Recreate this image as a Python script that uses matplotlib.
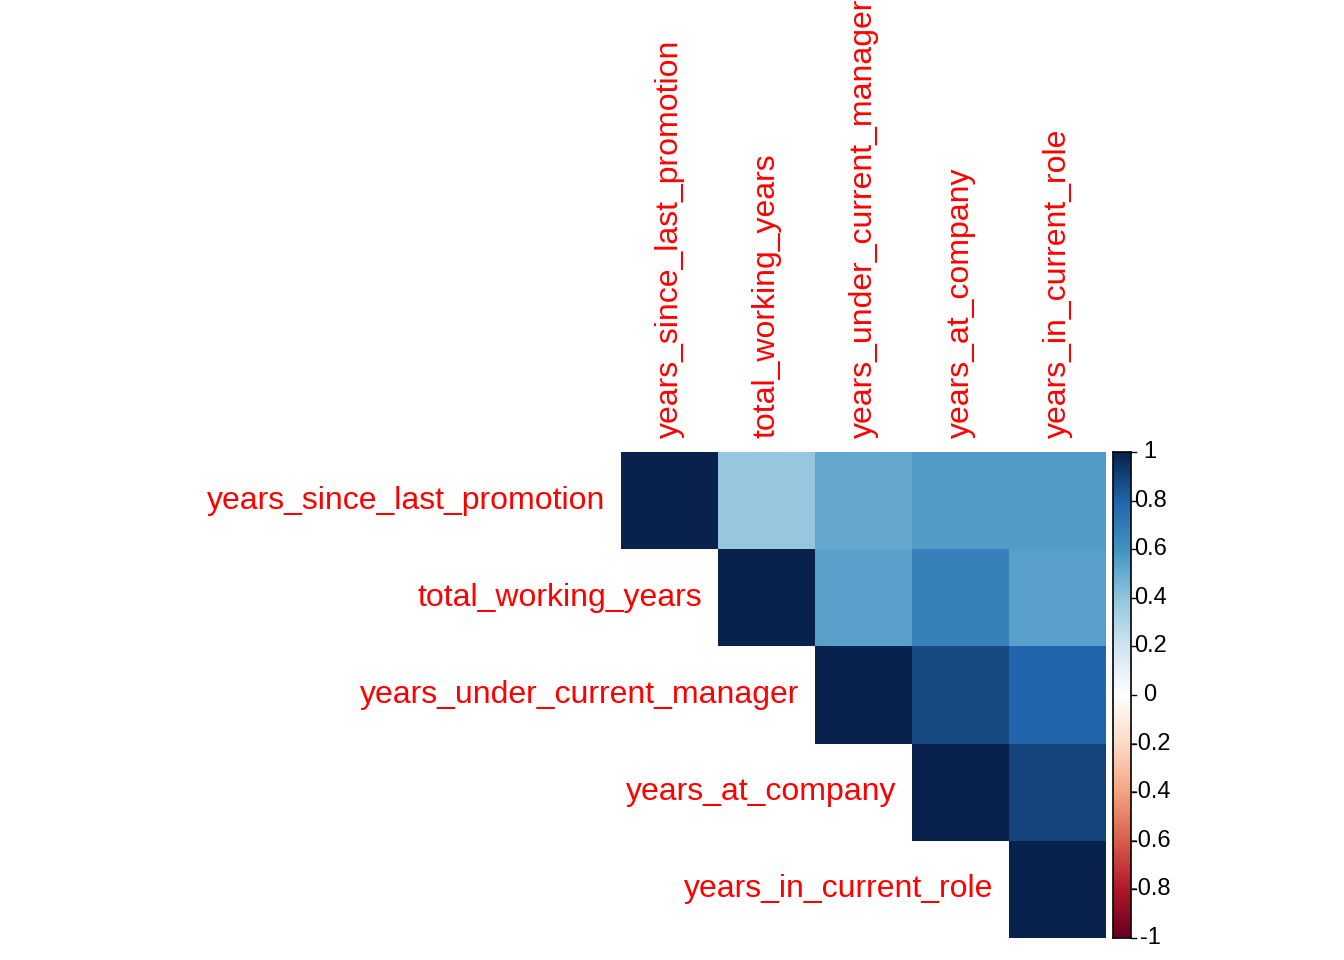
import numpy as np
import matplotlib
matplotlib.use('Agg')
from matplotlib import pyplot as plt
from matplotlib.colors import LinearSegmentedColormap

plt.rcParams['font.family'] = ['Liberation Sans', 'DejaVu Sans']

variables = ['years_since_last_promotion', 'total_working_years',
             'years_under_current_manager', 'years_at_company',
             'years_in_current_role']

# upper triangle of the correlation matrix, row by row
row_1 = [1.00, 0.38, 0.51, 0.57, 0.56]
row_2 = [1.00, 0.54, 0.67, 0.54]
row_3 = [1.00, 0.88, 0.79]
row_4 = [1.00, 0.89]
row_5 = [1.00]

cbar_ticks = [-1, -0.8, -0.6, -0.4, -0.2, 0, 0.2, 0.4, 0.6, 0.8, 1]
cbar_labels = ['-1', '-0.8', '-0.6', '-0.4', '-0.2', '0', '0.2', '0.4', '0.6', '0.8', '1']

rdbu = ['#67001F', '#B2182B', '#D6604D', '#F4A582', '#FDDBC7', '#FFFFFF',
        '#D1E5F0', '#92C5DE', '#4393C3', '#2166AC', '#08224D']
cmap = LinearSegmentedColormap.from_list('corr_rdbu', rdbu, N=200)

n = len(variables)
corr = np.full((n, n), np.nan)
for i, row in enumerate([row_1, row_2, row_3, row_4, row_5]):
    corr[i, i:] = row
corr = np.ma.masked_invalid(corr)

W, H = 1344, 960
fig = plt.figure(figsize=(W / 100, H / 100), dpi=100)

ax = fig.add_axes([621 / W, 1 - 938 / H, 485 / W, 486 / H])
ax.pcolormesh(np.arange(n + 1), np.arange(n + 1), corr, cmap=cmap, vmin=-1, vmax=1)
ax.set_xlim(0, n)
ax.set_ylim(n, 0)
ax.axis('off')

label_color = '#FF0000'
for i, name in enumerate(variables):
    ax.text(i - 0.16, i + 0.5, name, ha='right', va='center', fontsize=23, color=label_color)
    ax.text(i + 0.5, -0.14, name, ha='center', va='bottom', rotation=90, fontsize=23, color=label_color)

# colour legend
cax = fig.add_axes([1113 / W, 1 - 938 / H, 18 / W, 486 / H])
grad = np.linspace(-1, 1, 200).reshape(-1, 1)
cax.imshow(grad, cmap=cmap, aspect='auto', origin='lower', extent=[0, 1, -1, 1])
cax.set_xlim(0, 1)
cax.set_ylim(-1, 1)
cax.set_xticks([])
cax.set_yticks([])
for s in cax.spines.values():
    s.set_linewidth(1.2)
    s.set_color('black')
for t, lab in zip(cbar_ticks, cbar_labels):
    cax.plot([1, 1.3], [t, t], color='black', lw=1, clip_on=False)
    cax.text(2.06, t, lab, ha='center', va='center', fontsize=17, color='black')

fig.savefig('out.png', dpi=100, facecolor='white')
